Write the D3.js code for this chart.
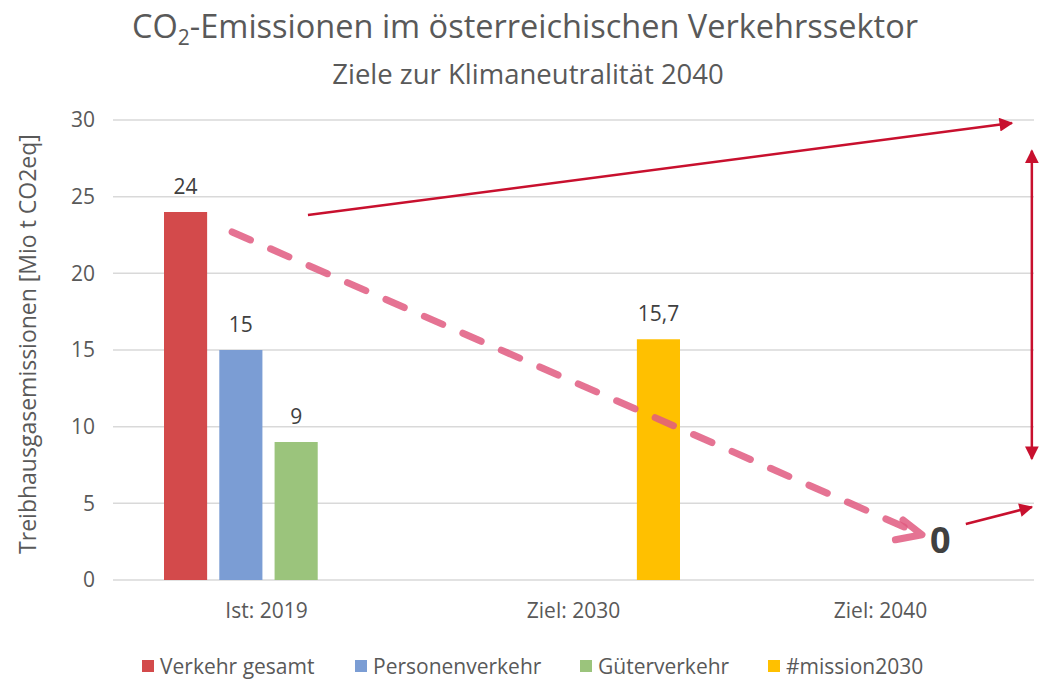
<!DOCTYPE html>
<html>
<head>
<meta charset="utf-8">
<script src="https://cdn.jsdelivr.net/npm/d3@7"></script>
<style>
  body { margin: 0; background: #fff; }
  svg { display: block; font-family: "Open Sans", Lato, sans-serif; }
</style>
</head>
<body>
<div id="container"></div>
<script>
// 数据
const categories = ["Ist: 2019", "Ziel: 2030", "Ziel: 2040"];
const series = ["Verkehr gesamt", "Personenverkehr", "Güterverkehr", "#mission2030"];
const colors = ["#d34a4b", "#7b9dd4", "#9bc47c", "#ffc000"];
// 每个类别里各系列的值（null = 无柱）
const values = [
  [24, 15, 9, null],
  [null, null, null, 15.7],
  [null, null, null, null]
];
const valueLabels = [
  ["24", "15", "9", null],
  [null, null, null, "15,7"],
  [null, null, null, null]
];
const yTicks = [0, 5, 10, 15, 20, 25, 30];

// 标注：[类别位置(索引), 数值]
const trendLine = [[-0.112, 22.7], [2.135, 2.95]];
const riseArrow = [[0.135, 23.8], [2.428, 29.8]];
const gapArrow = [[2.493, 28.0], [2.493, 7.9]];
const smallArrow = [[2.278, 3.65], [2.493, 4.76]];
const zeroLabel = [2.195, 1.76];

const width = 1045, height = 680;
const marginLeft = 113, marginRight = 11, marginTop = 120, marginBottom = 100;

const svg = d3.select("#container").append("svg")
  .attr("width", width).attr("height", height);

const x0 = d3.scaleBand(categories, [marginLeft, width - marginRight]);
const x1 = d3.scaleBand(series, [51, x0.bandwidth() - 47]).paddingInner(0.22);
const y = d3.scaleLinear([0, 30], [height - marginBottom, marginTop]);
// 连续位置比例尺（用于标注）
const xp = d3.scaleLinear([-0.5, categories.length - 0.5], [marginLeft, width - marginRight]);

// 网格线
svg.append("g")
  .selectAll("line")
  .data(yTicks)
  .join("line")
  .attr("x1", marginLeft).attr("x2", width - marginRight)
  .attr("y1", d => y(d)).attr("y2", d => y(d))
  .attr("stroke", "#d9d9d9").attr("stroke-width", 1.5);

// y 轴
const yAxis = d3.axisLeft(y).tickValues(yTicks).tickSize(0).tickPadding(18);
svg.append("g")
  .attr("transform", `translate(${marginLeft},0)`)
  .call(yAxis)
  .call(g => g.select(".domain").remove())
  .call(g => g.selectAll("text")
    .attr("font-size", 21).attr("fill", "#595959")
    .attr("font-family", "'Open Sans', sans-serif"));

svg.append("text")
  .attr("transform", `translate(36, ${y(15) - 6}) rotate(-90)`)
  .attr("text-anchor", "middle")
  .attr("font-size", 23).attr("fill", "#595959")
  .text("Treibhausgasemissionen [Mio t CO2eq]");

// x 轴
const xAxis = d3.axisBottom(x0).tickSize(0).tickPadding(23);
svg.append("g")
  .attr("transform", `translate(0,${y(0)})`)
  .call(xAxis)
  .call(g => g.select(".domain").remove())
  .call(g => g.selectAll("text")
    .attr("font-size", 21).attr("fill", "#595959")
    .attr("font-family", "'Open Sans', sans-serif"));

// 柱子
const group = svg.append("g")
  .selectAll("g")
  .data(categories)
  .join("g")
  .attr("transform", d => `translate(${x0(d)},0)`);

const cells = (c, ci) => series
  .map((s, si) => ({ s, si, v: values[ci][si], label: valueLabels[ci][si] }))
  .filter(d => d.v != null);

group.selectAll("rect")
  .data(cells)
  .join("rect")
  .attr("x", d => x1(d.s))
  .attr("width", x1.bandwidth())
  .attr("y", d => y(d.v))
  .attr("height", d => y(0) - y(d.v))
  .attr("fill", d => colors[d.si]);

group.selectAll("text")
  .data(cells)
  .join("text")
  .attr("x", d => x1(d.s) + x1.bandwidth() / 2)
  .attr("y", d => y(d.v) - 18)
  .attr("text-anchor", "middle")
  .attr("font-size", 21).attr("fill", "#404040")
  .text(d => d.label);

// 箭头标记
const accent = "#c8102e";
const defs = svg.append("defs");
defs.append("marker")
  .attr("id", "arrow")
  .attr("viewBox", "0 0 10 10")
  .attr("refX", 9).attr("refY", 5)
  .attr("markerWidth", 7).attr("markerHeight", 5.5)
  .attr("markerUnits", "strokeWidth")
  .attr("orient", "auto-start-reverse")
  .append("path").attr("d", "M0,0L10,5L0,10Z").attr("fill", accent);

const line = d3.line().x(d => xp(d[0])).y(d => y(d[1]));

// 趋势虚线
const pink = "#e05a80";
svg.append("path")
  .attr("d", line(trendLine))
  .attr("fill", "none")
  .attr("stroke", pink).attr("stroke-opacity", 0.85)
  .attr("stroke-width", 7).attr("stroke-linecap", "round")
  .attr("stroke-dasharray", "20 22");

// 虚线末端的开放箭头（">" 形）
{
  const [a, b] = trendLine;
  const tx = xp(b[0]), ty = y(b[1]);
  const back = Math.atan2(y(a[1]) - ty, xp(a[0]) - tx);
  const up = back + 0.25, low = back - 0.6;
  const p1 = [tx + 24 * Math.cos(up), ty + 24 * Math.sin(up)];
  const p2 = [tx + 27 * Math.cos(low), ty + 27 * Math.sin(low)];
  svg.append("path")
    .attr("d", `M${p1}L${tx},${ty}L${p2}`)
    .attr("fill", "none")
    .attr("stroke", pink).attr("stroke-opacity", 0.85)
    .attr("stroke-width", 7).attr("stroke-linecap", "round").attr("stroke-linejoin", "round");
}

// 红色箭头
svg.append("path")
  .attr("d", line(riseArrow))
  .attr("stroke", accent).attr("stroke-width", 2.5)
  .attr("marker-end", "url(#arrow)");

svg.append("path")
  .attr("d", line(gapArrow))
  .attr("stroke", accent).attr("stroke-width", 2.5)
  .attr("marker-start", "url(#arrow)")
  .attr("marker-end", "url(#arrow)");

svg.append("path")
  .attr("d", line(smallArrow))
  .attr("stroke", accent).attr("stroke-width", 2.5)
  .attr("marker-end", "url(#arrow)");

svg.append("text")
  .attr("x", xp(zeroLabel[0])).attr("y", y(zeroLabel[1]))
  .attr("text-anchor", "middle")
  .attr("font-size", 36).attr("font-weight", "bold").attr("fill", "#404040")
  .text("0");

// 标题
const title = svg.append("text")
  .attr("x", 525).attr("y", 38)
  .attr("text-anchor", "middle")
  .attr("font-size", 32.5).attr("fill", "#595959");
title.append("tspan").text("CO");
title.append("tspan").attr("font-size", 21).attr("dy", 7).text("2");
title.append("tspan").attr("dy", -7).text("-Emissionen im österreichischen Verkehrssektor");

svg.append("text")
  .attr("x", 528).attr("y", 84)
  .attr("text-anchor", "middle")
  .attr("font-size", 27.5).attr("fill", "#595959")
  .text("Ziele zur Klimaneutralität 2040");

// 图例
const legendX = [142, 355, 580, 768];
const legend = svg.append("g")
  .selectAll("g")
  .data(series)
  .join("g")
  .attr("transform", (d, i) => `translate(${legendX[i]}, 674)`);
legend.append("rect")
  .attr("x", 0).attr("y", -14).attr("width", 12).attr("height", 12)
  .attr("fill", (d, i) => colors[i]);
legend.append("text")
  .attr("x", 18).attr("y", 0)
  .attr("font-size", 21).attr("fill", "#595959")
  .text(d => d);
</script>
</body>
</html>
